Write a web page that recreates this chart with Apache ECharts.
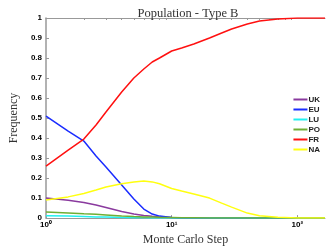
<!DOCTYPE html>
<html>
<head>
<meta charset="utf-8">
<script src="https://cdn.jsdelivr.net/npm/echarts@6/dist/echarts.min.js"></script>
<style>
  html, body { margin: 0; padding: 0; background: #fff; }
  #chart { width: 326px; height: 251px; }
</style>
</head>
<body>
<div id="chart"></div>
<script>
// Monte Carlo steps (x, log scale)
var steps = [1, 1.5, 2, 2.5, 3, 4, 5, 6, 7, 8, 10, 12, 15, 20, 25, 30, 40, 50, 70, 100, 130, 166];

// frequency of each type
var uk = [0.10, 0.089, 0.078, 0.065, 0.053, 0.033, 0.02, 0.013, 0.009, 0.006, 0.003, 0.002, 0.001, 0.0005, 0, 0, 0, 0, 0, 0, 0, 0];
var eu = [0.51, 0.435, 0.385, 0.31, 0.255, 0.165, 0.095, 0.045, 0.02, 0.01, 0.003, 0.001, 0.0005, 0, 0, 0, 0, 0, 0, 0, 0, 0];
var lu = [0.012, 0.01, 0.008, 0.006, 0.005, 0.003, 0.002, 0.0015, 0.001, 0.001, 0.0007, 0.0005, 0.0003, 0.0002, 0, 0, 0, 0, 0, 0, 0, 0];
var po = [0.03, 0.026, 0.022, 0.019, 0.016, 0.011, 0.008, 0.006, 0.005, 0.004, 0.003, 0.002, 0.0015, 0.001, 0.0007, 0.0005, 0.0003, 0.0002, 0.0001, 0, 0, 0];
var fr = [0.26, 0.34, 0.395, 0.465, 0.53, 0.63, 0.70, 0.745, 0.78, 0.80, 0.835, 0.85, 0.87, 0.90, 0.925, 0.945, 0.97, 0.985, 0.995, 1, 1, 1];
var na = [0.09, 0.106, 0.123, 0.14, 0.155, 0.172, 0.18, 0.185, 0.181, 0.172, 0.148, 0.135, 0.12, 0.10, 0.075, 0.055, 0.025, 0.012, 0.004, 0.001, 0, 0];

var names = ['UK', 'EU', 'LU', 'PO', 'FR', 'NA'];
var values = [uk, eu, lu, po, fr, na];
var colors = ['#8a3a9e', '#1a2cff', '#22f0f0', '#6fae34', '#ff1010', '#ffff10'];

// minor tick positions on the log axis
var minorTicks = [2, 3, 4, 5, 6, 7, 8, 9, 20, 30, 40, 50, 60, 70, 80, 90];

var myChart = echarts.init(document.getElementById('chart'));

var sup = {'0': '\u2070', '1': '\u00b9', '2': '\u00b2'};

var series = names.map(function (n, i) {
  return {
    name: n,
    type: 'line',
    showSymbol: false,
    smooth: false,
    lineStyle: { width: 1.5, color: colors[i] },
    itemStyle: { color: colors[i] },
    data: steps.map(function (s, j) { return [s, values[i][j]]; })
  };
});

var option = {
  animation: false,
  title: {
    text: 'Population - Type B',
    left: 183,
    textAlign: 'center',
    top: 2,
    textStyle: { fontFamily: 'Liberation Serif', fontWeight: 'normal', fontSize: 12.5, color: '#333' }
  },
  legend: {
    data: names,
    orient: 'vertical',
    right: 1,
    top: 90,
    itemWidth: 14,
    itemHeight: 2,
    itemGap: 1,
    icon: 'rect',
    textStyle: { fontSize: 8, fontWeight: 'bold', color: '#222', padding: [0, 0, 0, -4], lineHeight: 9 }
  },
  grid: { left: 34, right: 1, top: 18, bottom: 22 },
  xAxis: [{
    type: 'log',
    logBase: 10,
    min: 1,
    max: 166,
    name: 'Monte Carlo Step',
    nameLocation: 'middle',
    nameGap: 10,
    nameTextStyle: { fontFamily: 'Liberation Serif', fontSize: 12, color: '#333' },
    axisLine: { show: true, lineStyle: { color: '#999' } },
    axisTick: { inside: true, length: 3, lineStyle: { color: '#999' } },
    splitLine: { show: false },
    axisLabel: {
      fontSize: 8, fontWeight: 'bold', color: '#000', margin: 3,
      showMaxLabel: false,
      formatter: function (v) {
        var e = Math.round(Math.log(v) / Math.LN10);
        return '10' + sup[String(e)];
      }
    }
  }, {
    type: 'log',
    logBase: 10,
    min: 1,
    max: 166,
    position: 'top',
    axisLine: { show: true, lineStyle: { color: '#999' } },
    axisTick: { inside: true, length: 2, customValues: minorTicks, lineStyle: { color: '#999' } },
    axisLabel: { show: false },
    splitLine: { show: false }
  }],
  yAxis: {
    type: 'value',
    min: 0,
    max: 1,
    interval: 0.1,
    name: 'Frequency',
    nameLocation: 'middle',
    nameGap: 22,
    nameTextStyle: { fontFamily: 'Liberation Serif', fontSize: 12, color: '#333' },
    axisLine: { show: true, lineStyle: { color: '#999', width: 1.5 } },
    axisTick: { show: true, inside: true, length: 3, lineStyle: { color: '#999' } },
    splitLine: { show: false },
    axisLabel: { fontSize: 8, fontWeight: 'bold', color: '#000', margin: 4 }
  },
  series: series
};

myChart.setOption(option);
</script>
</body>
</html>
